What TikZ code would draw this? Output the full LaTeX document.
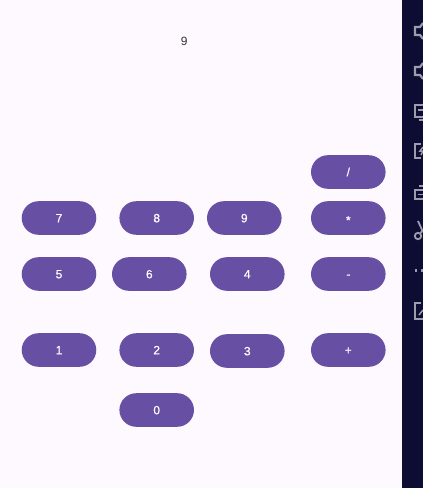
\documentclass[tikz,border=0pt]{standalone}
\usepackage{fontspec}
\setmainfont{Liberation Sans}
\newfontfamily\keyfont[FakeBold=0.5]{Liberation Sans}
\definecolor{appbg}{HTML}{FEF8FF}
\definecolor{keypurple}{HTML}{6750A4}
\definecolor{sidebar}{HTML}{0D0D33}
\definecolor{iconcol}{HTML}{9C9CAE}
\begin{document}
\begin{tikzpicture}[x=1pt,y=-1pt]
	% Estilos
	\tikzstyle{keybtn} = [rectangle, rounded corners=16.9pt, minimum width=74.6pt, minimum height=33.6pt, inner sep=0pt, text height=8.6pt, text depth=0pt, fill=keypurple, text=white, font=\keyfont\fontsize{12}{14}\selectfont]
	\tikzstyle{icon} = [draw=iconcol, line width=2.2pt]
	% Fundo
	\useasboundingbox (0,0) rectangle (423,488);
	\fill [appbg] (0,0) rectangle (402,488);
	\fill [sidebar] (402,0) rectangle (423,488);
	% Visor
	\node (display) at (184.3,41) [font=\fontsize{12}{14}\selectfont, text=black!80] {9};
	% Teclas
	\node (keydiv) at (348.3,172) [keybtn] {/};
	\node (key7) at (59,218) [keybtn] {7};
	\node (key8) at (156.7,218) [keybtn] {8};
	\node (key9) at (244.3,218) [keybtn] {9};
	\node (keymul) at (348.3,218) [keybtn] {\raisebox{-2pt}{*}};
	\node (key5) at (59,274) [keybtn] {5};
	\node (key6) at (149.3,274) [keybtn] {6};
	\node (key4) at (247.3,274) [keybtn] {4};
	\node (keysub) at (348.3,274) [keybtn] {-};
	\node (key1) at (59,350) [keybtn] {1};
	\node (key2) at (156.7,350) [keybtn] {2};
	\node (key3) at (247.3,351) [keybtn] {3};
	\node (keyadd) at (348.3,350) [keybtn] {+};
	\node (key0) at (156.7,410) [keybtn] {0};
	% Icones da barra lateral
	\draw [icon] (423,23) -- (420,27) -- (415,27) -- (415,35) -- (420,35) -- (423,39);
	\draw [icon] (423,63) -- (420,67) -- (415,67) -- (415,75) -- (420,75) -- (423,79);
	\draw [icon] (423,105) -- (415,105) -- (415,117) -- (423,117);
	\draw [icon] (418,110) -- (423,110);
	\draw [icon, line width=1.5pt] (419,120) -- (423,120);
	\draw [icon] (421,144) -- (415,144) -- (415,158) -- (421,158);
	\draw [icon, line width=1.5pt] (423,147) -- (420,151) -- (423,151) -- (421,155);
	\draw [icon] (423,186) -- (419,186);
	\draw [icon] (423,190) -- (415,190) -- (415,199) -- (423,199);
	\draw [icon, line width=1.5pt] (418,194.5) -- (423,194.5);
	\draw [icon, line width=1.8pt] (418,221) -- (423,232);
	\draw [icon, line width=1.8pt] (418,236) circle (3.2pt);
	\draw [icon, line width=1.8pt] (420.5,233) -- (423,230);
	\fill [iconcol] (414.5,269) rectangle (417,272);
	\fill [iconcol] (420.5,269) rectangle (423,272);
	\draw [icon] (421,303) -- (415,303) -- (415,319) -- (423,319);
	\draw [icon, line width=1.5pt] (419,315) -- (423,310);
\end{tikzpicture}
\end{document}
